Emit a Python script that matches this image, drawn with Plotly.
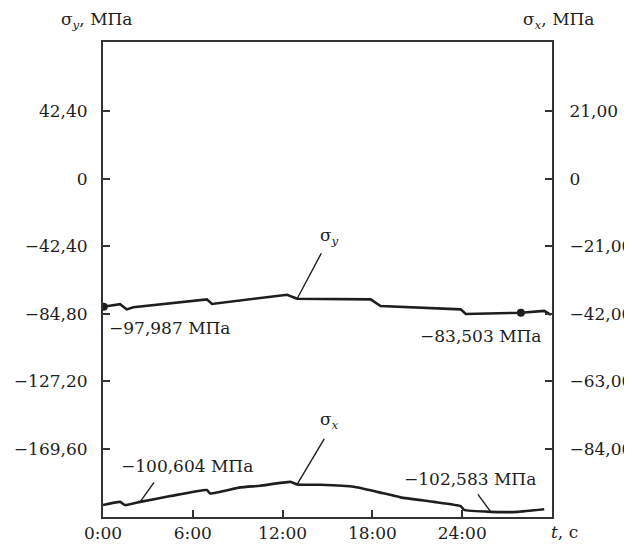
import plotly.graph_objects as go

# ---- data ----
t_sy = [0.0, 0.5, 1.14, 1.59, 2.03, 6.94, 7.28, 12.30, 12.97, 17.88, 18.55, 23.90, 24.24, 27.92, 29.48, 29.93]
sigma_y = [-80.3, -79.5, -78.7, -82.0, -80.7, -75.7, -78.6, -72.8, -75.3, -75.7, -79.9, -82.0, -84.9, -84.1, -82.9, -85.4]

t_sx = [0.0, 1.14, 1.47, 2.48, 4.5, 6.94, 7.16, 9.17, 10.5, 12.52, 12.97, 14.5, 16.76, 18.33, 19.89, 22.12, 23.90, 24.13, 25.91, 27.70, 29.48]
sigma_x = [-101.4, -100.4, -101.4, -100.4, -98.6, -96.7, -97.8, -95.9, -95.4, -94.2, -95.0, -95.1, -95.7, -97.3, -99.0, -100.4, -101.7, -102.9, -103.5, -103.5, -102.7]

sy_mark_t = [0.05, 27.92]
sy_mark_v = [-80.3, -84.1]

x_tickvals = [0, 6, 12, 18, 24]
x_ticktext = ["0:00", "6:00", "12:00", "18:00", "24:00"]
y_tickvals = [42.4, 0, -42.4, -84.8, -127.2, -169.6]
y_ticktext = ["42,40", "0", "\u221242,40", "\u221284,80", "\u2212127,20", "\u2212169,60"]
y2_tickvals = [21, 0, -21, -42, -63, -84]
y2_ticktext = ["21,00", "0", "\u221221,00", "\u221242,00", "\u221263,00", "\u221284,00"]

FONT = "DejaVu Serif"
INK = "#1e1e1e"

fig = go.Figure()
fig.add_trace(go.Scatter(x=t_sy, y=sigma_y, mode="lines",
                         line=dict(color=INK, width=2.6), yaxis="y"))
fig.add_trace(go.Scatter(x=sy_mark_t, y=sy_mark_v, mode="markers",
                         marker=dict(color=INK, size=8), yaxis="y"))
fig.add_trace(go.Scatter(x=t_sx, y=sigma_x, mode="lines", line_shape="spline",
                         line=dict(color=INK, width=2.6, smoothing=0.4), yaxis="y2"))

ann_font = dict(family=FONT, size=17, color=INK)

def label(x, y, yref, text, xshift, yshift, xanchor="center"):
    fig.add_annotation(x=x, y=y, xref="x", yref=yref, text=text, showarrow=False,
                       xshift=xshift, yshift=yshift, xanchor=xanchor, yanchor="middle",
                       font=ann_font)

def leader(x, y, yref, ax, ay):
    fig.add_annotation(x=x, y=y, xref="x", yref=yref, text="", showarrow=True,
                       arrowhead=0, arrowwidth=1.4, arrowcolor=INK, ax=ax, ay=ay)

# sigma_y callout
label(t_sy[8], sigma_y[8], "y", "\u03c3<sub><i>y</i></sub>", 32, 62)
leader(t_sy[8], sigma_y[8], "y", 25, -47)
# sigma_x callout
label(t_sx[10], sigma_x[10], "y2", "\u03c3<sub><i>x</i></sub>", 32, 64)
leader(t_sx[10], sigma_x[10], "y2", 28, -47)
# value callouts
label(sy_mark_t[0], sy_mark_v[0], "y", "\u221297,987 МПа", 3, -21, "left")
label(sy_mark_t[1], sy_mark_v[1], "y", "\u221283,503 МПа", 23, -23, "right")
label(t_sx[3], sigma_x[3], "y2", "\u2212100,604 МПа", -21, 36, "left")
leader(t_sx[3], sigma_x[3], "y2", 15, -21)
label(t_sx[18], sigma_x[18], "y2", "\u2212102,583 МПа", 47, 33, "right")
leader(t_sx[18], sigma_x[18], "y2", -14, -19)

# axis titles
fig.add_annotation(x=0, y=1, xref="paper", yref="paper", text="\u03c3<sub><i>y</i></sub>, МПа",
                   showarrow=False, xanchor="center", yanchor="bottom", xshift=-6, yshift=8,
                   font=ann_font)
fig.add_annotation(x=1, y=1, xref="paper", yref="paper", text="\u03c3<sub><i>x</i></sub>, МПа",
                   showarrow=False, xanchor="center", yanchor="bottom", xshift=7, yshift=8,
                   font=ann_font)
fig.add_annotation(x=1, y=0, xref="paper", yref="paper", text="<i>t</i>, c",
                   showarrow=False, xanchor="center", yanchor="top", xshift=12, yshift=-3,
                   font=ann_font)

axis_common = dict(showgrid=False, zeroline=False, showline=True, linecolor="#333",
                   linewidth=2, ticks="inside", ticklen=7, tickwidth=1.5, tickcolor="#333",
                   automargin=False,
                   tickfont=dict(family=FONT, size=17, color=INK))

# page body has an 8px margin, so the figure is sized and placed to compensate
fig.update_layout(
    width=624, height=543,
    margin=dict(l=95, r=80, t=34, b=34, autoexpand=False),
    paper_bgcolor="white", plot_bgcolor="white",
    showlegend=False,
    xaxis=dict(range=[0, 30], tickvals=x_tickvals, ticktext=x_ticktext, mirror=True,
               ticklabelstandoff=0, **axis_common),
    yaxis=dict(range=[-212.2, 85.7], tickvals=y_tickvals, ticktext=y_ticktext,
               ticklabelstandoff=10, **axis_common),
    yaxis2=dict(range=[-105.1, 42.44], tickvals=y2_tickvals, ticktext=y2_ticktext,
                overlaying="y", side="right", ticklabelstandoff=12, **axis_common),
)

fig.write_html("out.html")
